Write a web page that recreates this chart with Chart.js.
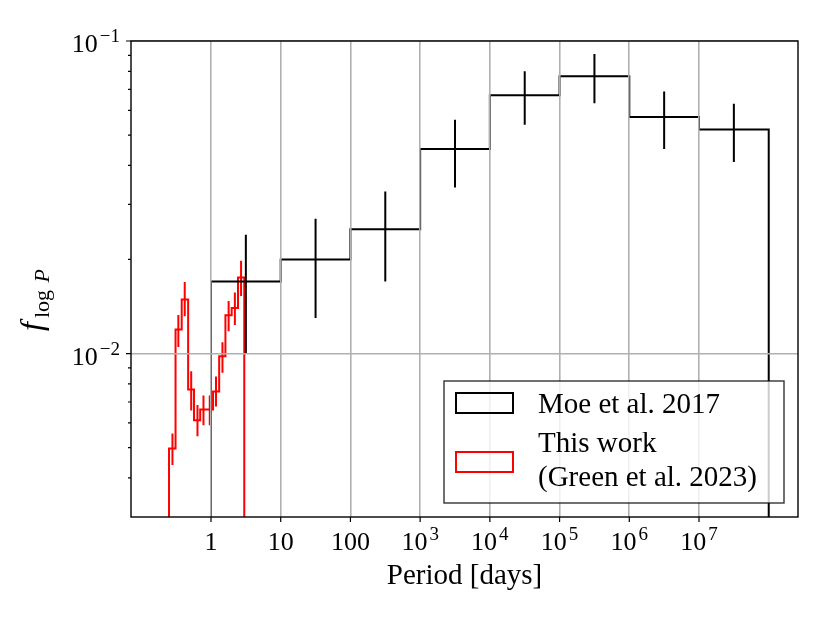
<!DOCTYPE html>
<html>
<head>
<meta charset="utf-8">
<script src="https://cdn.jsdelivr.net/npm/chart.js@4.4.1/dist/chart.umd.min.js"></script>
<style>
  html, body { margin: 0; padding: 0; background: #fff; }
  #wrap { width: 830px; height: 623px; }
</style>
</head>
<body>
<div id="wrap"><canvas id="myChart"></canvas></div>
<script>
// Moe et al. 2017: bin edges [days], values and error bars
const moeEdges = [1, 10, 100, 1e3, 1e4, 1e5, 1e6, 1e7, 1e8];
const moeValues = [0.0170, 0.0200, 0.0250, 0.0451, 0.0671, 0.0771, 0.0571, 0.0521];
const moeCenters = [3.162, 31.62, 316.2, 3162, 31623, 316228, 3162278, 31622777];
const moeLow = [0.0100, 0.0130, 0.0170, 0.0340, 0.0540, 0.0632, 0.0451, 0.0410];
const moeHigh = [0.0240, 0.0270, 0.0330, 0.0560, 0.0800, 0.0909, 0.0689, 0.0630];

// This work (Green et al. 2023)
const greenEdges = [0.25, 0.31, 0.38, 0.47, 0.57, 0.70, 0.87, 1.07, 1.31, 1.61, 1.98, 2.44, 3.0];
const greenValues = [0.00497, 0.01193, 0.01488, 0.00767, 0.00612, 0.00662, 0.00662, 0.00756, 0.00980, 0.01325, 0.01400, 0.01750];
const greenCenters = [0.28, 0.34, 0.42, 0.52, 0.64, 0.78, 0.96, 1.18, 1.46, 1.79, 2.20, 2.70];
const greenLow = [0.00440, 0.01050, 0.01316, 0.00658, 0.00544, 0.00590, 0.00590, 0.00677, 0.00868, 0.01178, 0.01235, 0.01527];
const greenHigh = [0.00555, 0.01329, 0.01694, 0.00878, 0.00684, 0.00734, 0.00734, 0.00844, 0.01087, 0.01472, 0.01569, 0.01982];

// axes
const xMin = 0.0712, xMax = 2.63e8;
const yMin = 0.003, yMax = 0.1;
const xTickValues = [1, 10, 100, 1e3, 1e4, 1e5, 1e6, 1e7];
const xTickLabels = [['1', ''], ['10', ''], ['100', ''], ['10', '3'], ['10', '4'], ['10', '5'], ['10', '6'], ['10', '7']];
const yTickValues = [0.1, 0.01];
const yTickLabels = [['10', '\u22121'], ['10', '\u22122']];
const yMinorTicks = [0.004, 0.005, 0.006, 0.007, 0.008, 0.009, 0.02, 0.03, 0.04, 0.05, 0.06, 0.07, 0.08, 0.09];

const serif = '"Liberation Serif", "Times New Roman", serif';
const gridGray = '#b0b0b0';

function stepPoints(edges, values, floor) {
    const pts = [{ x: edges[0], y: floor }];
    values.forEach((v, i) => pts.push({ x: edges[i], y: v }));
    pts.push({ x: edges[edges.length - 1], y: values[values.length - 1] });
    pts.push({ x: edges[edges.length - 1], y: floor });
    return pts;
}

function errorPoints(centers, low, high) {
    const pts = [];
    centers.forEach((c, i) => {
        pts.push({ x: c, y: low[i] }, { x: c, y: high[i] }, { x: c, y: null });
    });
    return pts;
}

function isMajorGrid(list, v) {
    return list.some(t => Math.abs(Math.log10(t) - Math.log10(v)) < 1e-6);
}

// "10" with a raised exponent
function drawPow(ctx, base, exp, x, y, align) {
    ctx.font = '26px ' + serif;
    const wb = ctx.measureText(base).width;
    ctx.font = '19px ' + serif;
    const we = exp ? ctx.measureText(exp).width + 2 : 0;
    const w = wb + we;
    let x0 = align === 'right' ? x - w : x - w / 2;
    ctx.textAlign = 'left';
    ctx.textBaseline = 'alphabetic';
    ctx.font = '26px ' + serif;
    ctx.fillText(base, x0, y);
    if (exp) {
        ctx.font = '19px ' + serif;
        ctx.fillText(exp, x0 + wb + 2, y - 10);
    }
}

const decorations = {
    id: 'decorations',
    afterDraw(chart) {
        const ctx = chart.ctx;
        const area = chart.chartArea;
        const xs = chart.scales.x, ys = chart.scales.y;
        ctx.save();
        ctx.fillStyle = '#000';
        ctx.strokeStyle = '#000';

        // frame
        ctx.lineWidth = 1.4;
        ctx.strokeRect(area.left, area.top, area.right - area.left, area.bottom - area.top);

        // tick marks
        ctx.lineWidth = 1.2;
        ctx.beginPath();
        xTickValues.forEach(v => {
            const px = xs.getPixelForValue(v);
            ctx.moveTo(px, area.bottom);
            ctx.lineTo(px, area.bottom + 5);
        });
        yTickValues.forEach(v => {
            const py = ys.getPixelForValue(v);
            ctx.moveTo(area.left, py);
            ctx.lineTo(area.left - 5, py);
        });
        yMinorTicks.forEach(v => {
            const py = ys.getPixelForValue(v);
            ctx.moveTo(area.left, py);
            ctx.lineTo(area.left - 3, py);
        });
        ctx.stroke();

        // tick labels
        xTickValues.forEach((v, i) => {
            drawPow(ctx, xTickLabels[i][0], xTickLabels[i][1], xs.getPixelForValue(v), area.bottom + 33, 'center');
        });
        yTickValues.forEach((v, i) => {
            drawPow(ctx, yTickLabels[i][0], yTickLabels[i][1], area.left - 11, ys.getPixelForValue(v) + 11, 'right');
        });

        // x axis title
        ctx.font = '29px ' + serif;
        ctx.textAlign = 'center';
        ctx.fillText('Period [days]', (area.left + area.right) / 2, area.bottom + 67);

        // y axis title: f_{log P}
        ctx.save();
        ctx.translate(42, (area.top + area.bottom) / 2 + 21);
        ctx.rotate(-Math.PI / 2);
        ctx.textAlign = 'left';
        ctx.font = 'italic 32px ' + serif;
        const wf = ctx.measureText('f').width;
        ctx.font = '22px ' + serif;
        const wl = ctx.measureText('log ').width;
        ctx.font = 'italic 22px ' + serif;
        const wp = ctx.measureText('P').width;
        const total = wf + 4 + wl + 2 + wp;
        let tx = -total / 2;
        ctx.font = 'italic 32px ' + serif;
        ctx.fillText('f', tx, 0);
        tx += wf + 4;
        ctx.font = '22px ' + serif;
        ctx.fillText('log ', tx, 7);
        tx += wl + 2;
        ctx.font = 'italic 22px ' + serif;
        ctx.fillText('P', tx, 7);
        ctx.restore();

        // legend
        const boxW = 340, boxH = 122;
        const bx = area.right - 14 - boxW;
        const by = area.bottom - 14 - boxH;
        ctx.fillStyle = 'rgba(255,255,255,0.8)';
        ctx.fillRect(bx, by, boxW, boxH);
        ctx.strokeStyle = 'rgba(0,0,0,0.8)';
        ctx.lineWidth = 1.4;
        ctx.strokeRect(bx, by, boxW, boxH);

        ctx.lineWidth = 2;
        ctx.strokeStyle = '#000';
        ctx.strokeRect(bx + 12, by + 12, 57, 20);
        ctx.strokeStyle = '#ff0000';
        ctx.strokeRect(bx + 12, by + 71, 57, 20);

        ctx.fillStyle = '#000';
        ctx.textAlign = 'left';
        ctx.font = '29px ' + serif;
        ctx.fillText('Moe et al. 2017', bx + 94, by + 32);
        ctx.fillText('This work', bx + 94, by + 71);
        ctx.fillText('(Green et al. 2023)', bx + 94, by + 105);
        ctx.restore();
    }
};

const ctx = document.getElementById('myChart');

new Chart(ctx, {
    type: 'line',
    data: {
        datasets: [
            {
                label: 'Moe et al. 2017',
                data: stepPoints(moeEdges, moeValues, yMin),
                borderColor: '#000',
                borderWidth: 2,
                stepped: 'before',
                pointRadius: 0,
                fill: false
            },
            {
                label: 'Moe errors',
                data: errorPoints(moeCenters, moeLow, moeHigh),
                borderColor: '#000',
                borderWidth: 2,
                pointRadius: 0,
                spanGaps: false
            },
            {
                label: 'This work (Green et al. 2023)',
                data: stepPoints(greenEdges, greenValues, yMin),
                borderColor: '#ff0000',
                borderWidth: 2,
                stepped: 'before',
                pointRadius: 0,
                fill: false
            },
            {
                label: 'Green errors',
                data: errorPoints(greenCenters, greenLow, greenHigh),
                borderColor: '#ff0000',
                borderWidth: 2,
                pointRadius: 0,
                spanGaps: false
            }
        ]
    },
    options: {
        responsive: true,
        maintainAspectRatio: false,
        animation: false,
        layout: { padding: { left: 131, top: 41, right: 32, bottom: 106 } },
        plugins: {
            legend: { display: false },
            tooltip: { enabled: false }
        },
        scales: {
            x: {
                type: 'logarithmic',
                min: xMin,
                max: xMax,
                border: { display: false },
                ticks: { display: false },
                grid: {
                    z: 1,
                    drawTicks: false,
                    lineWidth: 1.6,
                    color: c => (c.tick && isMajorGrid(xTickValues, c.tick.value)) ? gridGray : 'rgba(0,0,0,0)'
                }
            },
            y: {
                type: 'logarithmic',
                min: yMin,
                max: yMax,
                border: { display: false },
                ticks: { display: false },
                grid: {
                    z: 1,
                    drawTicks: false,
                    lineWidth: 1.6,
                    color: c => (c.tick && isMajorGrid(yTickValues, c.tick.value)) ? gridGray : 'rgba(0,0,0,0)'
                }
            }
        }
    },
    plugins: [decorations]
});
</script>
</body>
</html>
